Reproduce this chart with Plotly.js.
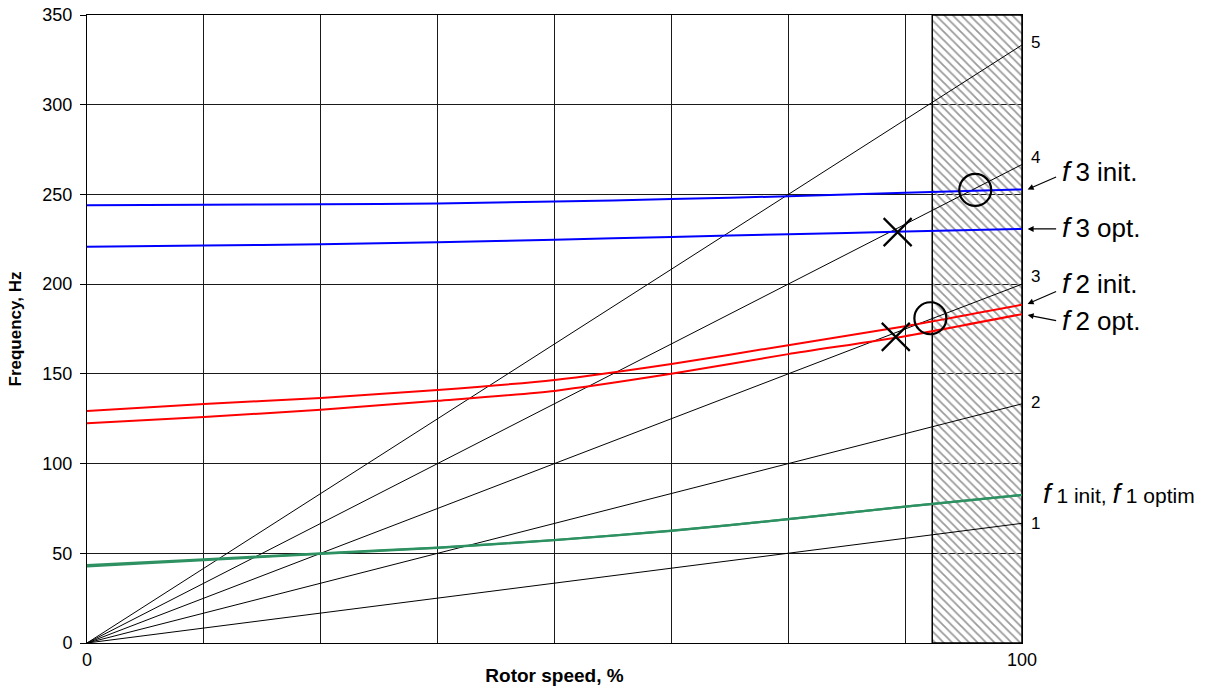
<!DOCTYPE html>
<html>
<head>
<meta charset="utf-8">
<script src="https://cdn.plot.ly/plotly-3.0.1.min.js"></script>
<style>
  html, body { margin: 0; padding: 0; background: #fff; }
  #chart { width: 1208px; height: 686px; }
</style>
</head>
<body>
<div id="chart"></div>
<script>
// Rotor speed grid, % of nominal
const speedPct = [0, 12.5, 25, 37.5, 50, 62.5, 75, 87.5, 100];

// Natural frequencies vs rotor speed, Hz
const f3Init = [243.9, 244.2, 244.5, 245.0, 246.0, 247.4, 249.0, 251.0, 252.8];
const f3Opt  = [220.9, 221.5, 222.3, 223.3, 224.8, 226.3, 227.8, 229.3, 230.8];
const f2Init = [129.3, 133.2, 136.6, 141.0, 146.6, 155.5, 166.0, 176.5, 188.5];
const f2Opt  = [122.5, 126.0, 130.0, 135.0, 140.5, 150.0, 161.0, 171.0, 183.3];
const f1Init = [43.4, 46.6, 50.0, 53.2, 57.4, 62.6, 69.0, 76.0, 82.5];
const f1Opt  = [42.7, 46.2, 49.7, 53.0, 57.3, 62.5, 69.0, 76.0, 82.5];

// Excitation orders: frequency reached at 100 % speed
const orders = ['1', '2', '3', '4', '5'];
const orderEndHz = [66.7, 133.3, 200.0, 266.7, 333.3];

// Operating speed band (hatched)
const bandPct = [90.4, 100];

// Resonance markers
const crossX = [86.7, 86.5];
const crossY = [229.0, 170.6];
const circleX = [95.0, 90.2];
const circleY = [252.5, 181.0];

const FONT = 'Arial, "Liberation Sans", sans-serif';
const traces = [];

// hatched speed band
traces.push({
  x: [bandPct[0], bandPct[1], bandPct[1], bandPct[0], bandPct[0]],
  y: [0, 0, 350, 350, 0],
  mode: 'lines', fill: 'toself',
  fillcolor: 'rgba(0,0,0,0)',
  fillpattern: { shape: '\\', fgcolor: '#9a9a9a', bgcolor: 'rgba(0,0,0,0)', size: 6, solidity: 0.3 },
  line: { color: '#000', width: 1.5 },
  hoverinfo: 'skip', showlegend: false
});

// order lines
orders.forEach((o, i) => {
  traces.push({
    x: [0, 100], y: [0, orderEndHz[i]],
    mode: 'lines', line: { color: '#000', width: 1 },
    showlegend: false, name: 'order ' + o
  });
});

function curve(y, color, w, name) {
  traces.push({
    x: speedPct, y: y, mode: 'lines', name: name,
    line: { color: color, width: w, shape: 'spline', smoothing: 0.6 },
    showlegend: false
  });
}
curve(f1Opt, '#2e9162', 2.2, 'f1 optim');
curve(f1Init, '#2e9162', 2.2, 'f1 init');
curve(f2Init, '#ff0000', 2, 'f2 init');
curve(f2Opt, '#ff0000', 2, 'f2 opt');
curve(f3Init, '#0000ff', 2, 'f3 init');
curve(f3Opt, '#0000ff', 2, 'f3 opt');

traces.push({
  x: crossX, y: crossY, mode: 'markers',
  marker: { symbol: 'x-thin-open', size: 28, color: '#000', line: { color: '#000', width: 2.2 } },
  showlegend: false, cliponaxis: false
});
traces.push({
  x: circleX, y: circleY, mode: 'markers',
  marker: { symbol: 'circle-open', size: 32, color: '#000', line: { color: '#000', width: 2.2 } },
  showlegend: false, cliponaxis: false
});

const annotations = [];
// order numbers at line ends
const orderLabelShift = [0, 1, 8, 7, 2];
orders.forEach((o, i) => {
  annotations.push({
    x: 100, y: orderEndHz[i], xref: 'x', yref: 'y', text: o,
    showarrow: false, xanchor: 'left', yanchor: 'middle',
    xshift: 7, yshift: orderLabelShift[i],
    font: { family: FONT, size: 17, color: '#000' }
  });
});

const THIN = '\u2009';
function modeLabel(num, rest, yHz, xshift, restSize) {
  return {
    x: 100, y: yHz, xref: 'x', yref: 'y', showarrow: false,
    xanchor: 'left', yanchor: 'middle', xshift: xshift,
    text: '<i>f</i>' + THIN + '<span style="font-size:' + restSize + 'px">' + num + rest + '</span>',
    font: { family: FONT, size: 28, color: '#000' }
  };
}
annotations.push(modeLabel('3', ' init.', 263.0, 38, 26));
annotations.push(modeLabel('3', ' opt.', 231.5, 38, 26));
annotations.push(modeLabel('2', ' init.', 200.5, 38, 26));
annotations.push(modeLabel('2', ' opt.', 180.0, 38, 26));
annotations.push({
  x: 100, y: 83.5, xref: 'x', yref: 'y', showarrow: false,
  xanchor: 'left', yanchor: 'middle', xshift: 19,
  text: '<i>f</i>' + THIN + '<span style="font-size:21px">1 init, </span><i>f</i>' + THIN + '<span style="font-size:21px">1 optim</span>',
  font: { family: FONT, size: 28, color: '#000' }
});

// arrows pointing to the end of each curve (x in paper units, just right of the plot)
function arrow(yHz, ax, ay) {
  return {
    x: 1.006, y: yHz, xref: 'paper', yref: 'y', text: '',
    showarrow: true, arrowhead: 2, arrowsize: 1, arrowwidth: 1.2,
    arrowcolor: '#000', ax: ax, ay: ay, standoff: 0, startstandoff: 0
  };
}
annotations.push(arrow(f3Init[f3Init.length - 1], 30, -13));
annotations.push(arrow(f3Opt[f3Opt.length - 1], 30, 0));
annotations.push(arrow(f2Init[f2Init.length - 1] + 0.5, 30, -13));
annotations.push(arrow(f2Opt[f2Opt.length - 1] - 0.5, 30, 6));

const layout = {
  width: 1208, height: 686,
  margin: { l: 87, r: 186, t: 15, b: 43 },
  paper_bgcolor: '#fff', plot_bgcolor: '#fff',
  font: { family: FONT, size: 18, color: '#000' },
  showlegend: false,
  xaxis: {
    range: [0, 100], tickmode: 'array',
    tickvals: speedPct,
    ticktext: speedPct.map(v => (v === 0 || v === 100) ? String(v) : ''),
    showgrid: true, gridcolor: '#1a1a1a', gridwidth: 1,
    zeroline: false, showline: true, linecolor: '#000', linewidth: 1, mirror: true,
    ticks: '', tickfont: { family: FONT, size: 18, color: '#000' },
    title: { text: '<b>Rotor speed, %</b>', font: { family: FONT, size: 19, color: '#000' }, standoff: 2 }
  },
  yaxis: {
    range: [0, 350], tickmode: 'array',
    tickvals: [0, 50, 100, 150, 200, 250, 300, 350],
    showgrid: true, gridcolor: '#1a1a1a', gridwidth: 1,
    zeroline: false, showline: true, linecolor: '#000', linewidth: 1, mirror: true,
    ticks: 'outside', ticklen: 6, tickcolor: '#000', ticklabelstandoff: 4,
    tickfont: { family: FONT, size: 18, color: '#000' },
    title: { text: '<b>Frequency, Hz</b>', font: { family: FONT, size: 17, color: '#000' }, standoff: 16 }
  },
  annotations: annotations
};

Plotly.newPlot('chart', traces, layout, { displayModeBar: false, staticPlot: true });
</script>
</body>
</html>
